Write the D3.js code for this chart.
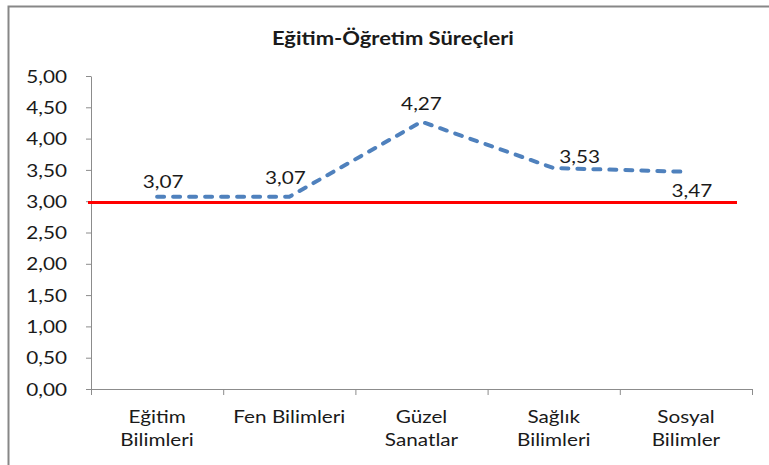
<!DOCTYPE html>
<html>
<head>
<meta charset="utf-8">
<script src="https://cdn.jsdelivr.net/npm/d3@7"></script>
<style>
  body { margin: 0; background: #fff; }
  text { font-family: Lato, "Open Sans", sans-serif; fill: #1a1a1a; }
</style>
</head>
<body>
<div class="chart"></div>
<script>
// veriler
const categories = ['Eğitim Bilimleri', 'Fen Bilimleri', 'Güzel Sanatlar', 'Sağlık Bilimleri', 'Sosyal Bilimler'];
const categoryLines = [['Eğitim', 'Bilimleri'], ['Fen Bilimleri'], ['Güzel', 'Sanatlar'], ['Sağlık', 'Bilimleri'], ['Sosyal', 'Bilimler']];
const values = [3.07, 3.07, 4.27, 3.53, 3.47];
const referenceValue = 2.98;
const yTicks = [0, 0.5, 1, 1.5, 2, 2.5, 3, 3.5, 4, 4.5, 5];
const title = 'Eğitim-Öğretim Süreçleri';
// etiketlerin elle kaydırılması (dx, dy)
const labelNudge = [[6, -9], [-4, -13], [0, -12], [26, -5], [6, 25]];

const width = 769;
const height = 465;
const stretch = 1.22; // yazilar yatayda genis
const fmt = d => d.toFixed(2).replace('.', ',');

const svg = d3.select('.chart').append('svg')
    .attr('width', width)
    .attr('height', height);

// dis cerceve
svg.append('rect')
    .attr('x', 8.5).attr('y', 6.5)
    .attr('width', 900).attr('height', 600)
    .attr('fill', 'none')
    .attr('stroke', '#878787')
    .attr('stroke-width', 2);

const x = d3.scaleBand().domain(categories).range([91, 752]);
const y = d3.scaleLinear().domain([0, 5]).range([389, 76]);

// baslik
svg.append('text')
    .attr('transform', `translate(393,45) scale(${stretch},1)`)
    .attr('text-anchor', 'middle')
    .style('font-size', '18px')
    .style('font-weight', 'bold')
    .text(title);

// y ekseni
const yAxis = svg.append('g')
    .attr('transform', 'translate(91,0)')
    .call(d3.axisLeft(y).tickValues(yTicks).tickFormat(fmt).tickSize(5).tickSizeOuter(0));
yAxis.selectAll('path, line').attr('stroke', '#8c8c8c');
yAxis.selectAll('text')
    .attr('x', null).attr('dy', '0.36em')
    .attr('transform', `translate(-24,0) scale(${stretch},1)`)
    .style('font-size', '17px')
    .style('font-family', 'Lato')
    .attr('fill', '#1a1a1a');

// x ekseni (tikler kategori sinirlarinda)
const xr = x.range();
svg.append('line')
    .attr('x1', xr[0]).attr('x2', xr[1])
    .attr('y1', y(0) + 0.5).attr('y2', y(0) + 0.5)
    .attr('stroke', '#8c8c8c');
svg.selectAll('.xtick')
    .data(d3.range(categories.length + 1))
    .enter().append('line')
    .attr('class', 'xtick')
    .attr('x1', i => xr[0] + i * x.step() + 0.5)
    .attr('x2', i => xr[0] + i * x.step() + 0.5)
    .attr('y1', y(0)).attr('y2', y(0) + 6)
    .attr('stroke', '#8c8c8c');

const cat = svg.selectAll('.cat')
    .data(categories)
    .enter().append('text')
    .attr('class', 'cat')
    .attr('text-anchor', 'middle')
    .attr('transform', d => `translate(${x(d) + x.bandwidth() / 2},423) scale(${stretch},1)`)
    .style('font-size', '17px');
cat.selectAll('tspan')
    .data((d, i) => categoryLines[i])
    .enter().append('tspan')
    .attr('x', 0)
    .attr('y', (d, i) => i * 23.5)
    .text(d => d);

// referans cizgisi
svg.append('line')
    .attr('x1', xr[0] - 3).attr('x2', xr[1] - 15)
    .attr('y1', y(referenceValue)).attr('y2', y(referenceValue))
    .attr('stroke', '#ff0000')
    .attr('stroke-width', 3);

// kesikli seri
const cx = i => x(categories[i]) + x.bandwidth() / 2;
const line = d3.line()
    .x((d, i) => cx(i))
    .y(d => y(d));
svg.append('path')
    .datum(values)
    .attr('d', line)
    .attr('fill', 'none')
    .attr('stroke', '#4f81bd')
    .attr('stroke-width', 4)
    .attr('stroke-linecap', 'round')
    .attr('stroke-dasharray', '7,9');

// veri etiketleri
svg.selectAll('.lbl')
    .data(values)
    .enter().append('text')
    .attr('class', 'lbl')
    .attr('text-anchor', 'middle')
    .attr('transform', (d, i) => `translate(${cx(i) + labelNudge[i][0]},${y(d) + labelNudge[i][1]}) scale(${stretch},1)`)
    .style('font-size', '17px')
    .text(fmt);
</script>
</body>
</html>
